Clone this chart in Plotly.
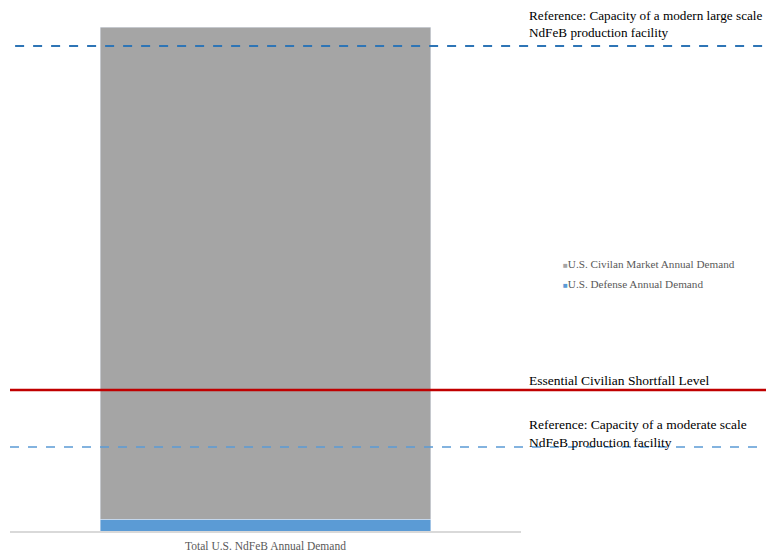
import plotly.graph_objects as go

# demand data (metric tons per year)
categories = ["Total U.S. NdFeB Annual Demand"]
defense_demand = [240]
civilian_demand = [9840]

# reference levels
large_facility = 9700
shortfall_level = 2820
moderate_facility = 1680

serif = "Liberation Serif, Times New Roman, serif"
defense_color = "#5b9bd5"
civilian_color = "#a5a5a5"

fig = go.Figure()

fig.add_trace(go.Bar(
    x=categories, y=defense_demand,
    name="U.S. Defense Annual Demand",
    marker_color=defense_color,
    showlegend=False,
))
fig.add_trace(go.Bar(
    x=categories, y=civilian_demand,
    name="U.S. Civilan Market Annual Demand",
    marker_color=civilian_color,
    showlegend=False,
))

# horizontal reference lines, run across to the right edge
fig.add_shape(type="line", xref="paper", yref="y", x0=0.01, x1=1.6,
              y0=large_facility, y1=large_facility,
              line=dict(color="#2e75b6", width=2, dash="dash"))
fig.add_shape(type="line", xref="paper", yref="y", x0=0, x1=1.6,
              y0=shortfall_level, y1=shortfall_level,
              line=dict(color="#c00000", width=2.5))
fig.add_shape(type="line", xref="paper", yref="y", x0=0, x1=1.6,
              y0=moderate_facility, y1=moderate_facility,
              line=dict(color="#5b9bd5", width=1.5, dash="dash"))

label_x = 1.012
label_font = dict(family=serif, size=13.5, color="black")
# top label a touch smaller so "scale" stays inside the page
fig.add_annotation(x=label_x, y=large_facility, xref="paper", yref="y",
                   text="Reference: Capacity of a modern large scale<br>NdFeB production facility",
                   showarrow=False, xanchor="left", yanchor="bottom", align="left",
                   yshift=4, font=dict(family=serif, size=13.2, color="black"))
fig.add_annotation(x=label_x, y=shortfall_level, xref="paper", yref="y",
                   text="Essential Civilian Shortfall Level",
                   showarrow=False, xanchor="left", yanchor="bottom", align="left",
                   yshift=0, font=label_font)
fig.add_annotation(x=label_x, y=moderate_facility, xref="paper", yref="y",
                   text="Reference: Capacity of a moderate scale<br>NdFeB production facility",
                   showarrow=False, xanchor="left", yanchor="bottom", align="left",
                   yshift=-5, font=label_font)

# legend drawn as small squares next to the names, like the original
legend_items = [("U.S. Civilan Market Annual Demand", civilian_color, 0.502),
                ("U.S. Defense Annual Demand", defense_color, 0.466)]
for name, color, ypos in legend_items:
    fig.add_annotation(
        x=1.078, y=ypos, xref="paper", yref="paper",
        text=f'<span style="color:{color};font-size:8px">■</span>{name}',
        showarrow=False, xanchor="left", yanchor="middle", align="left",
        font=dict(family=serif, size=11.2, color="#595959"),
    )

fig.update_layout(
    barmode="stack",
    bargap=0.354,
    width=766, height=552,
    margin=dict(l=10, r=245, t=0, b=21),
    plot_bgcolor="white",
    paper_bgcolor="white",
    xaxis=dict(
        showline=True, linecolor="#d9d9d9", linewidth=1.5,
        tickfont=dict(family=serif, size=11.5, color="#595959"),
        ticks="",
        ticklabelstandoff=3,
    ),
    yaxis=dict(
        range=[0, 10620],
        visible=False,
        showgrid=False,
    ),
)

# the page body has a default 8px margin; drop it so the figure sits at the corner
fig.write_html("out.html", config={"displayModeBar": False},
               post_script="document.body.style.margin='0';")
